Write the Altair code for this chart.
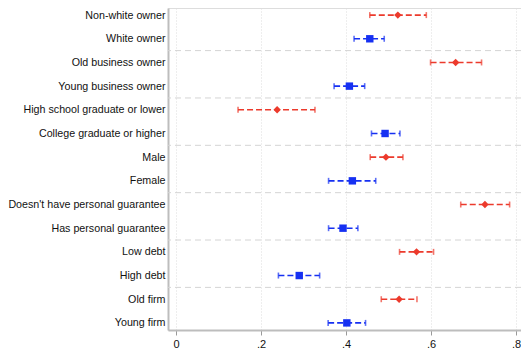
import altair as alt
import pandas as pd

categories = [
    "Non-white owner", "White owner",
    "Old business owner", "Young business owner",
    "High school graduate or lower", "College graduate or higher",
    "Male", "Female",
    "Doesn't have personal guarantee", "Has personal guarantee",
    "Low debt", "High debt",
    "Old firm", "Young firm",
]
estimate = [0.522, 0.456, 0.658, 0.408, 0.238, 0.492, 0.494, 0.415,
            0.727, 0.393, 0.566, 0.290, 0.525, 0.402]
ci_low = [0.456, 0.419, 0.599, 0.372, 0.146, 0.460, 0.457, 0.359,
          0.670, 0.359, 0.526, 0.241, 0.483, 0.358]
ci_high = [0.589, 0.490, 0.719, 0.444, 0.327, 0.527, 0.534, 0.470,
           0.785, 0.428, 0.606, 0.338, 0.567, 0.446]
group = ["a", "b"] * 7
separators = [1.5, 3.5, 5.5, 7.5, 9.5, 11.5]
x_ticks = [0, 0.2, 0.4, 0.6, 0.8]

RED = "#ec3a2c"
BLUE = "#1630f2"

df = pd.DataFrame({
    "label": categories,
    "idx": list(range(len(categories))),
    "est": estimate,
    "lo": ci_low,
    "hi": ci_high,
    "grp": group,
})
sep_df = pd.DataFrame({"s": separators})

label_array = "[" + ",".join('"' + c + '"' for c in categories) + "]"

xscale = alt.Scale(domain=[-0.0188, 0.8118], nice=False, zero=False)
yscale = alt.Scale(domain=[-0.3, 13.3], reverse=True, nice=False, zero=False)

x_axis = alt.Axis(values=x_ticks, title=None, grid=True, gridColor="#dcdcdc",
                  gridDash=[1, 2], gridWidth=1, domainColor="#bdbdbd", domainWidth=2,
                  tickColor="#9a9a9a", tickSize=5, labelFontSize=11,
                  labelFont="Liberation Sans", labelColor="#111111", labelPadding=3,
                  labelOverlap=False,
                  labelExpr="datum.value == 0 ? '0' : replace(format(datum.value, '.1f'), '0.', '.')")
y_axis = alt.Axis(values=list(range(len(categories))), title=None, grid=False,
                  ticks=False, domainColor="#bdbdbd", domainWidth=2,
                  labelFontSize=10.7, labelFont="Liberation Sans", labelColor="#111111",
                  labelPadding=3, labelOverlap=False, labelLimit=0,
                  labelExpr=label_array + "[datum.value]")

color = alt.Color("grp:N", scale=alt.Scale(domain=["a", "b"], range=[RED, BLUE]), legend=None)

base = alt.Chart(df)

def X(field):
    return alt.X(field, scale=xscale, axis=x_axis)

def Y(field):
    return alt.Y(field, scale=yscale, axis=y_axis)

seps = alt.Chart(sep_df).mark_rule(color="#d4d4d4", strokeDash=[6, 4], strokeWidth=1).encode(
    y=Y("s:Q")
)

bars = base.mark_rule(strokeDash=[6, 3], strokeWidth=1.6).encode(
    x=X("lo:Q"), x2="hi:Q", y=Y("idx:Q"), color=color,
)

cap_lo = base.mark_tick(orient="vertical", size=6, thickness=1.6).encode(
    x=X("lo:Q"), y=Y("idx:Q"), color=color
)
cap_hi = base.mark_tick(orient="vertical", size=6, thickness=1.6).encode(
    x=X("hi:Q"), y=Y("idx:Q"), color=color
)

points = base.mark_point(filled=True, opacity=1, size=55).encode(
    x=X("est:Q"),
    y=Y("idx:Q"),
    color=color,
    shape=alt.Shape("grp:N", scale=alt.Scale(domain=["a", "b"], range=["diamond", "square"]), legend=None),
)

chart = alt.layer(seps, bars, cap_lo, cap_hi, points).properties(
    width=353, height=322,
    autosize=alt.AutoSizeParams(type="none"),
    padding={"left": 160, "top": 0, "right": 0, "bottom": 19},
).configure_view(stroke=None).configure_axis(labelOverlap=False).configure(background="white")

chart.save("out.html", embed_options={"renderer": "svg", "actions": False})
